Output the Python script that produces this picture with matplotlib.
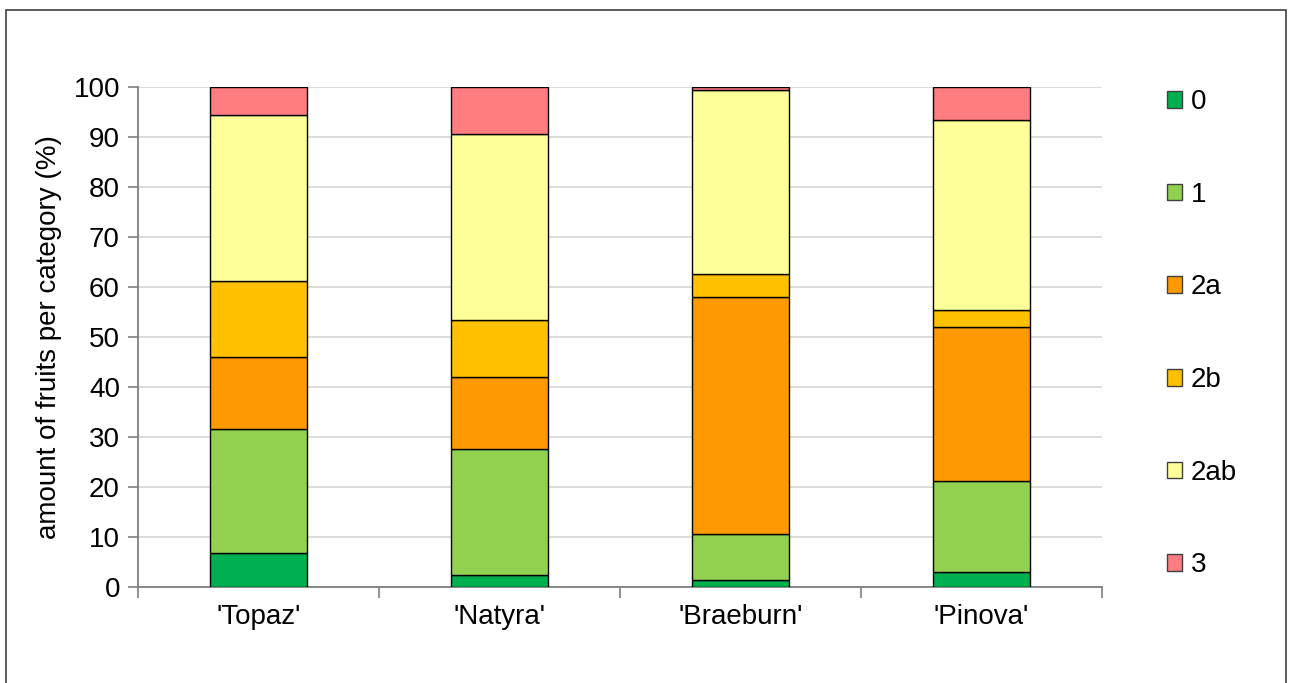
import numpy as np
import matplotlib
matplotlib.use("Agg")
import matplotlib.pyplot as plt
from matplotlib.patches import Patch, Rectangle

plt.rcParams['font.family'] = ['Liberation Sans', 'DejaVu Sans']

cultivars = ["'Topaz'", "'Natyra'", "'Braeburn'", "'Pinova'"]
categories = ['0', '1', '2a', '2b', '2ab', '3']
colors = ['#00b050', '#92d050', '#ff9900', '#ffc000', '#ffff99', '#ff7c80']

cat_0 = [6.9, 2.5, 1.4, 3.1]
cat_1 = [24.8, 25.2, 9.2, 18.2]
cat_2a = [14.4, 14.3, 47.5, 30.7]
cat_2b = [15.2, 11.4, 4.5, 3.4]
cat_2ab = [33.2, 37.3, 36.9, 38.1]
cat_3 = [5.5, 9.3, 0.5, 6.5]

series = [cat_0, cat_1, cat_2a, cat_2b, cat_2ab, cat_3]

fs = 20

fig = plt.figure(figsize=(12.92, 6.83), dpi=100)
ax = fig.add_axes([138 / 1292, 96 / 683, 964 / 1292, 500 / 683])

# outer frame
fig.patches.append(Rectangle((6 / 1292, -0.05), 1280 / 1292, 1.05 - 10 / 683,
                             transform=fig.transFigure, fill=False,
                             edgecolor='#404040', linewidth=1.2))

x = np.arange(len(cultivars))
bottom = np.zeros(len(cultivars))
for vals, col, name in zip(series, colors, categories):
    ax.bar(x, vals, width=0.4, bottom=bottom, color=col, edgecolor='black',
           linewidth=1.0, label=name, zorder=3)
    bottom += np.array(vals)

ax.set_xlim(-0.5, len(cultivars) - 0.5)
ax.set_ylim(0, 100)
ax.set_yticks(np.arange(0, 101, 10))
ax.yaxis.grid(True, color='#d9d9d9', linewidth=1.3, zorder=0)
ax.set_axisbelow(True)

ax.set_xticks(x)
ax.set_xticklabels(cultivars, fontsize=fs)
ax.set_xticks(np.arange(-0.5, len(cultivars), 1), minor=True)
ax.tick_params(axis='x', which='major', length=0, pad=12)
ax.tick_params(axis='x', which='minor', length=8, color='#7f7f7f', width=1.2)
ax.tick_params(axis='y', length=7, color='#7f7f7f', width=1.2, labelsize=fs, pad=6)

for side in ['top', 'right']:
    ax.spines[side].set_visible(False)
for side in ['left', 'bottom']:
    ax.spines[side].set_color('#7f7f7f')
    ax.spines[side].set_linewidth(1.3)

ax.set_ylabel('amount of fruits per category (%)', fontsize=fs, labelpad=8)

handles = [Patch(facecolor=c, edgecolor='#404040', label=n) for c, n in zip(colors, categories)]
fig.legend(handles=handles, loc='upper left', bbox_to_anchor=(1156 / 1292, 1 - 78 / 683),
           frameon=False, fontsize=fs, handlelength=0.55, handleheight=0.55,
           handletextpad=0.3, labelspacing=2.4, borderaxespad=0)

fig.savefig('out.png', dpi=100)
